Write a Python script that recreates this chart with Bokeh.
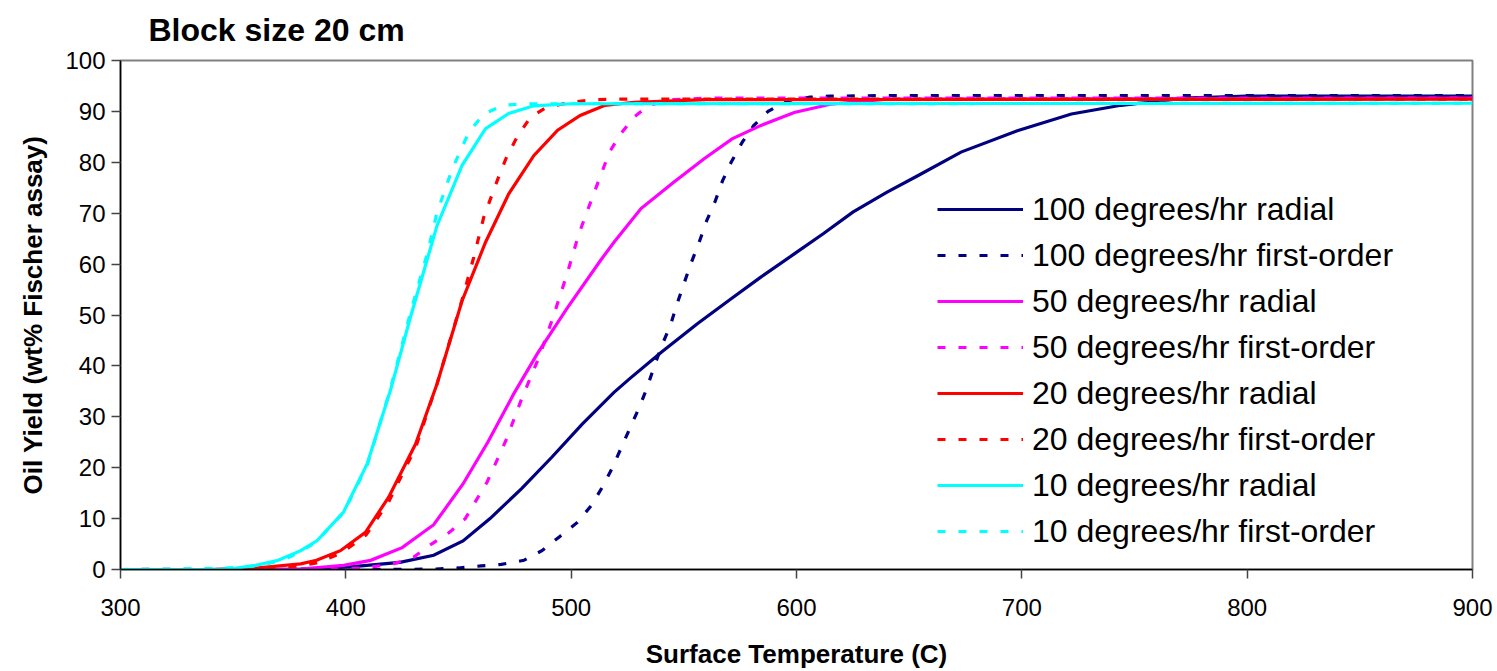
from bokeh.plotting import figure
from bokeh.models import Range1d, FixedTicker, Legend, LegendItem
from bokeh.embed import file_html
from bokeh.resources import INLINE

# ---- data ----
t_100_radial = [300, 340, 380, 402, 424, 439, 452, 464, 478, 491.5, 505, 519, 526, 540, 556, 571, 584, 599, 612, 625, 640, 654, 673, 698, 722, 744, 772, 800, 900]
y_100_radial = [0, 0, 0.1, 0.5, 1.4, 2.8, 5.6, 10, 15.9, 22.1, 28.6, 34.8, 37.5, 42.7, 48.3, 53.2, 57.4, 62, 66, 70.2, 74.1, 77.4, 82, 86.2, 89.5, 91.2, 92.6, 93, 93]

t_100_first = [300, 420, 440, 450, 460, 469, 479, 487, 495, 502.6, 509, 514, 518.4, 522.3, 526.3, 530, 533.5, 537, 540.5, 544, 547, 550, 553.4, 556.8, 560.2, 563.8, 567.2, 571, 576, 581, 587.4, 596, 606, 615, 640, 900]
y_100_first = [0, 0, 0.1, 0.3, 0.7, 1.0, 1.8, 3.7, 6.5, 9.2, 12.6, 16.3, 20.1, 24, 28, 31.6, 35.5, 40.1, 44.3, 47.9, 52.2, 56.1, 60.4, 64.3, 68.6, 72.2, 76.4, 80, 84, 87.2, 90, 92.1, 92.8, 93, 93.1, 93.1]

t_50_radial = [300, 340, 380, 399, 411, 425, 439, 452, 463, 474.5, 485, 498, 513, 519, 531, 545.5, 559, 571.4, 584, 599, 615, 640, 900]
y_50_radial = [0, 0, 0.1, 0.8, 1.8, 4.3, 8.8, 16.8, 25, 34.5, 42.4, 51.2, 60.7, 64.3, 70.9, 76.1, 80.7, 84.6, 87.2, 89.8, 91.4, 92.4, 92.6]

t_50_first = [300, 400, 410, 421, 430, 438, 446, 453, 462.7, 471, 478, 486, 492, 498, 503.4, 510, 517, 522, 528, 534.4, 545, 560, 900]
y_50_first = [0, 0.1, 0.4, 1.1, 2.4, 5, 7.3, 10, 17.2, 25.3, 33.5, 42, 49.6, 57.8, 65.9, 73.8, 82, 85.6, 88.9, 91.2, 92.3, 92.6, 92.6]

t_20_radial = [300, 340, 360, 380, 387, 397.6, 408.7, 419, 431, 440.5, 451.6, 462, 472.3, 483.4, 494, 504, 515, 528, 560, 900]
y_20_radial = [0, 0, 0.3, 1.1, 1.8, 3.7, 7.3, 14.2, 24.7, 36.5, 52.8, 64.3, 73.8, 81.3, 86.3, 89.2, 91.2, 91.8, 92.3, 92.4]

t_20_first = [300, 350, 380, 387, 398, 409, 419, 431, 440.5, 451.6, 456.8, 461.2, 465, 468.3, 471.6, 476.3, 482, 489, 500, 510, 520, 900]
y_20_first = [0, 0, 0.7, 1.3, 3.2, 6.8, 13.3, 24, 36.5, 53, 61.4, 69.2, 73.8, 77.7, 81.3, 85.2, 88.9, 90.8, 91.8, 92.3, 92.4, 92.4]

t_10_radial = [300, 340, 350, 360, 370, 380, 387.3, 399, 409.5, 419.8, 428.7, 440.5, 451.6, 462, 472.3, 483.4, 500, 900]
y_10_radial = [0, 0, 0.2, 0.8, 1.8, 3.7, 5.7, 11.3, 20.8, 35.2, 49.6, 67.6, 79.4, 86.6, 89.6, 91.1, 91.5, 91.6]

t_10_first = [300, 345, 360, 372, 380, 387, 399, 409.5, 419.8, 428.7, 433.1, 436.1, 440.5, 444.2, 447.2, 450.9, 454.6, 461.2, 470, 478.8, 900]
y_10_first = [0, 0.2, 0.7, 1.8, 3.5, 5.5, 11.2, 20.5, 35.5, 50.5, 57.4, 62, 70.2, 74.8, 78.7, 82.3, 85.9, 89.5, 91.2, 91.5, 91.6]

title_text = "Block size 20 cm"
series_labels = ["100 degrees/hr radial", "100 degrees/hr first-order",
                 "50 degrees/hr radial", "50 degrees/hr first-order",
                 "20 degrees/hr radial", "20 degrees/hr first-order",
                 "10 degrees/hr radial", "10 degrees/hr first-order"]
x_ticks = [300, 400, 500, 600, 700, 800, 900]
y_ticks = [0, 10, 20, 30, 40, 50, 60, 70, 80, 90, 100]

series = [
    (t_100_radial, y_100_radial, "#000080", "solid"),
    (t_100_first, y_100_first, "#000080", "8 13"),
    (t_50_radial, y_50_radial, "#FF00FF", "solid"),
    (t_50_first, y_50_first, "#FF00FF", "8 13"),
    (t_20_radial, y_20_radial, "#FF0000", "solid"),
    (t_20_first, y_20_first, "#FF0000", "8 13"),
    (t_10_radial, y_10_radial, "#00FFFF", "solid"),
    (t_10_first, y_10_first, "#00FFFF", "8 13"),
]

FONT = "Liberation Sans"

p = figure(width=1497, height=671, output_backend="svg", toolbar_location=None,
           x_range=Range1d(300, 900), y_range=Range1d(0, 100),
           min_border_left=120, min_border_right=25, min_border_top=0, min_border_bottom=102,
           title=title_text)

p.title.text_font = FONT
p.title.text_font_size = "32px"
p.title.text_font_style = "bold"
p.title.text_color = "black"
p.title.align = "left"
p.title.vertical_align = "top"
p.title.offset = 28
p.title.standoff = 22

p.outline_line_color = "#808080"
p.outline_line_width = 2
p.xgrid.visible = False
p.ygrid.visible = False
p.background_fill_color = "white"
p.border_fill_color = "white"

for ax in (p.xaxis[0], p.yaxis[0]):
    ax.axis_line_color = "black"
    ax.axis_line_width = 1.5
    ax.major_tick_line_color = "#444444"
    ax.major_tick_line_width = 1.5
    ax.major_tick_out = 9
    ax.major_tick_in = 0
    ax.minor_tick_line_color = None
    ax.major_label_text_font = FONT
    ax.major_label_text_font_size = "24px"
    ax.major_label_text_color = "black"
    ax.axis_label_text_font = FONT
    ax.axis_label_text_font_size = "26px"
    ax.axis_label_text_font_style = "bold"
    ax.axis_label_text_color = "black"

p.xaxis.ticker = FixedTicker(ticks=x_ticks)
p.yaxis.ticker = FixedTicker(ticks=y_ticks)
p.xaxis.axis_label = "Surface Temperature (C)"
p.yaxis.axis_label = "Oil Yield (wt% Fischer assay)"
p.xaxis.major_label_standoff = 20
p.xaxis.axis_label_standoff = 20
p.yaxis.major_label_standoff = 6
p.yaxis.axis_label_standoff = 14

items = []
for (tx, ty, col, dash), lab in zip(series, series_labels):
    r = p.line(tx, ty, line_color=col, line_width=3.2, line_dash=dash, line_cap="butt", line_join="miter")
    items.append(LegendItem(label=lab, renderers=[r]))

legend = Legend(items=items, location=(817, 15))
legend.label_text_font = FONT
legend.label_text_font_size = "32px"
legend.label_text_color = "black"
legend.label_height = 46
legend.glyph_height = 46
legend.glyph_width = 86
legend.label_standoff = 9
legend.spacing = 0
legend.padding = 0
legend.margin = 0
legend.border_line_alpha = 0
legend.background_fill_alpha = 0
p.add_layout(legend, "center")

open("out.html", "w").write(file_html(p, INLINE))
